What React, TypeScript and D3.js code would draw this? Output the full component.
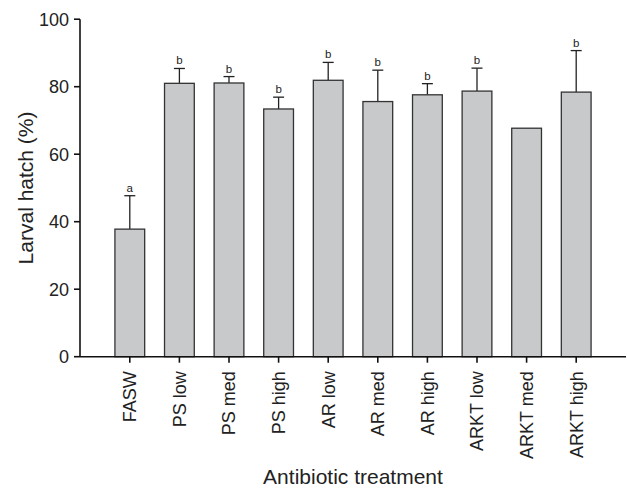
import React from "react";
import * as d3 from "d3";

const categories = ["FASW", "PS low", "PS med", "PS high", "AR low", "AR med", "AR high", "ARKT low", "ARKT med", "ARKT high"];
const means = [37.8, 81.0, 81.1, 73.4, 81.9, 75.6, 77.6, 78.7, 67.7, 78.4];
const errTops = [47.7, 85.4, 83.0, 76.9, 87.2, 84.9, 80.9, 85.5, null, 90.7];
const letters = ["a", "b", "b", "b", "b", "b", "b", "b", "", "b"];
const yTicks = [0, 20, 40, 60, 80, 100];

export default function App() {
  const W = 627, H = 489;
  const x0 = 80, x1 = 626;
  const y = d3.scaleLinear().domain([0, 100]).range([356.7, 19.2]);
  const x = d3.scaleBand<string>().domain(categories).range([105, 601]).paddingInner(0.4).paddingOuter(0.2);
  const bw = x.bandwidth();
  const font = "Liberation Sans, Arial, Helvetica, sans-serif";
  return (
    <svg width={W} height={H} style={{ position: "absolute", left: 0, top: 0 }} fontFamily={font}>
      {categories.map((c, i) => {
        const cx = (x(c) as number) + bw / 2;
        const top = errTops[i];
        return (
          <g key={c}>
            {top !== null && (
              <g stroke="#222" strokeWidth={1.3}>
                <line x1={cx} x2={cx} y1={y(means[i])} y2={y(top)} />
                <line x1={cx - 5.5} x2={cx + 5.5} y1={y(top)} y2={y(top)} />
              </g>
            )}
            <rect x={x(c)} y={y(means[i])} width={bw} height={y(0) - y(means[i])} fill="#c8c9cb" stroke="#333" strokeWidth={1.3} />
            {letters[i] && (
              <text x={cx} y={y(top ?? means[i]) - 4} textAnchor="middle" fontSize={11.5} fill="#222">{letters[i]}</text>
            )}
          </g>
        );
      })}
      {/* y axis */}
      <line x1={x0} x2={x0} y1={y(100)} y2={y(0)} stroke="#111" strokeWidth={1.6} />
      {yTicks.map(t => (
        <g key={t}>
          <line x1={x0 - 6} x2={x0} y1={y(t)} y2={y(t)} stroke="#111" strokeWidth={1.6} />
          <text x={x0 - 11} y={y(t)} dy="0.36em" textAnchor="end" fontSize={18} fill="#222">{t}</text>
        </g>
      ))}
      {/* x axis */}
      <line x1={x0} x2={x1} y1={y(0)} y2={y(0)} stroke="#111" strokeWidth={1.6} />
      {categories.map(c => {
        const cx = (x(c) as number) + bw / 2;
        return (
          <g key={c}>
            <line x1={cx} x2={cx} y1={y(0)} y2={y(0) + 6} stroke="#111" strokeWidth={1.6} />
            <text transform={`translate(${cx + 6.3},${y(0) + 14.5}) rotate(-90)`} textAnchor="end" fontSize={18} fill="#222">{c}</text>
          </g>
        );
      })}
      <text transform={`translate(33,${(y(0) + y(100)) / 2}) rotate(-90)`} textAnchor="middle" fontSize={21} fill="#222">Larval hatch (%)</text>
      <text x={353} y={484} textAnchor="middle" fontSize={21} fill="#222">Antibiotic treatment</text>
    </svg>
  );
}
